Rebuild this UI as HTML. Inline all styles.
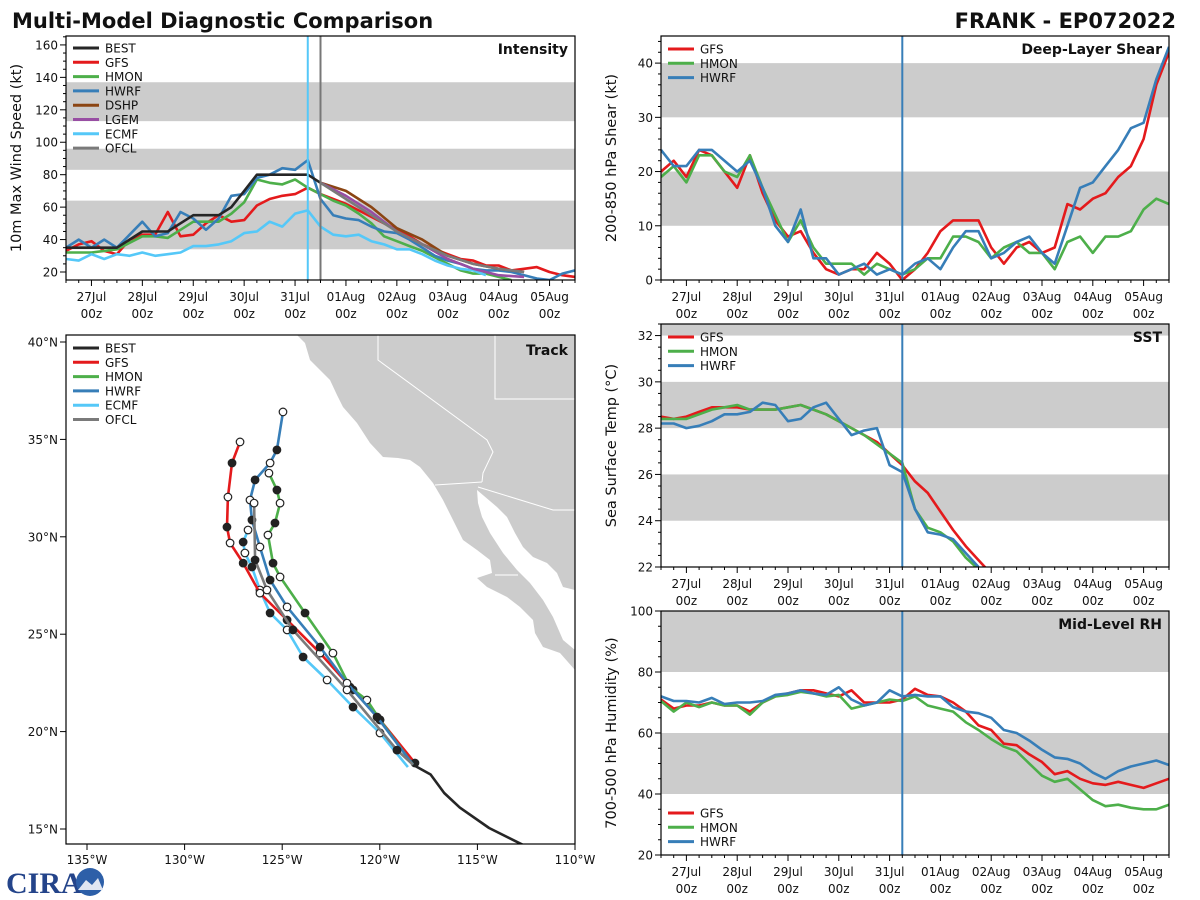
<!DOCTYPE html>
<html><head><meta charset="utf-8">
<style>
html,body{margin:0;padding:0;background:#fff;}
svg{display:block;font-family:"DejaVu Sans","Liberation Sans",sans-serif;}
</style></head>
<body>
<svg id="root" width="1200" height="900" viewBox="0 0 1200 900" xmlns="http://www.w3.org/2000/svg">
<text x="12" y="28" font-size="21" font-weight="bold" fill="#111">Multi-Model Diagnostic Comparison</text>
<text x="1176" y="28" font-size="21" font-weight="bold" fill="#111" text-anchor="end">FRANK - EP072022</text>
<g>
<text x="6" y="893" font-size="30" font-weight="bold" fill="#24448a" font-family="Liberation Serif, serif">CIRA</text>
<circle cx="90" cy="882" r="14" fill="#2d5fa8"/>
<path d="M78,890 L86,880 L92,885 L98,878 L103,890 Z" fill="#e0e6f2"/>
</g>
</svg>
<script>
// ===== DATA =====
const dayLabels = ["27Jul","28Jul","29Jul","30Jul","31Jul","01Aug","02Aug","03Aug","04Aug","05Aug"];
const dayTickSteps = [2,6,10,14,18,22,26,30,34,38];
// Intensity (kt), 6-hourly from 26Jul 12z
const intBest = [35,35,35,35,35,40,45,45,45,50,55,55,55,60,70,80,80,80,80,80,75];
const intGfs = [33,37,39,33,31,40,43,43,57,42,43,50,55,51,52,61,65,67,68,72,68,65,62,58,54,50,46,42,37,34,31,28,27,24,24,21,22,23,20,18,17];
const intHmon = [32,32,32,33,34,38,42,42,41,46,51,51,51,56,63,77,75,74,77,72,68,64,61,56,50,42,39,36,33,29,25,21,19,19,17,15];
const intHwrf = [35,40,35,40,35,43,51,42,44,57,53,46,53,67,68,78,80,84,83,89,65,55,53,52,48,45,44,40,35,30,27,25,22,21,21,20,18,16,15,19,21];
const intEcmf = [28,27,31,28,31,30,32,30,31,32,36,36,37,39,44,45,51,48,56,58,48,43,42,43,39,37,34,34,31,27,24,22,21,18];
const fcstSteps = [20,22,24,26,28,30,32,34,36];
const intDshp = [75,70,60,47,40,30,25,22,20];
const intLgem = [75,67,57,45,37,28,22,18,17];
const intOfcl = [75,65,55,45,37,30,25,22,20];
// Shear (kt)
const shrGfs = [20,22,19,24,23,20,17,23,16,11,8,9,5,2,1,2,2,5,3,0,2,5,9,11,11,11,6,3,6,7,5,6,14,13,15,16,19,21,26,36,42];
const shrHmon = [19,21,18,23,23,20,19,23,17,12,7,11,6,3,3,3,1,3,2,1,2,4,4,8,8,7,4,6,7,5,5,2,7,8,5,8,8,9,13,15,14];
const shrHwrf = [24,21,21,24,24,22,20,22,17,10,7,13,4,4,1,2,3,1,2,1,3,4,2,6,9,9,4,5,7,8,5,3,10,17,18,21,24,28,29,37,43];
// SST (C)
const sstGfs = [28.5,28.4,28.5,28.7,28.9,28.9,28.9,28.8,28.8,28.8,28.9,29.0,28.8,28.6,28.3,28.0,27.7,27.4,26.9,26.4,25.7,25.2,24.4,23.6,22.9,22.3,21.7];
const sstHmon = [28.4,28.4,28.4,28.6,28.8,28.9,29.0,28.8,28.8,28.8,28.9,29.0,28.8,28.6,28.3,28.0,27.7,27.3,26.9,26.5,24.5,23.7,23.5,23.1,22.4,21.9];
const sstHwrf = [28.2,28.2,28.0,28.1,28.3,28.6,28.6,28.7,29.1,29.0,28.3,28.4,28.9,29.1,28.4,27.7,27.9,28.0,26.4,26.1,24.5,23.5,23.4,23.2,22.6,22.0];
// RH (%)
const rhGfs = [71,68,69,69,70,69,69,67,70,72,73,74,74,73,72,74,70,70,70,71,74.5,72.5,72,70,67,62.5,61,56.5,56,53,50.5,46.5,47.5,45,43.5,43,44,43,42,43.5,45];
const rhHmon = [70.5,67,70,68.5,70,69,69,66,70,72,72.5,73.5,73,72,72.5,68,69,70,71,70.5,72,69,68,67,63.5,61,58,55.5,54,50,46,44,45,41.5,38,36,36.5,35.5,35,35,36.5];
const rhHwrf = [72,70.5,70.5,70,71.5,69.5,70,70,70.5,72.5,73,74,73,72.5,75,71,69,70,74,72,72.5,72,72,68.5,67,66.5,65,61,60,57.5,54.5,52,51.5,50,47,45,47.5,49,50,51,49.5];
// Tracks (lat, lon)
const bestLat = [14.2,15.05,16.1,16.85,17.8,18.3];
const bestLon = [-112.7,-114.4,-115.9,-116.7,-117.4,-118.3];
const gfsLat = [18.3,18.39,20.6,22.14,24.03,25.73,27.11,28.65,29.68,30.5,32.04,33.79,34.87];
const gfsLon = [-118.3,-118.2,-119.99,-121.37,-123.06,-124.75,-126.14,-127.0,-127.67,-127.83,-127.78,-127.57,-127.16];
const hmonLat = [18.3,20.6,21.62,22.29,24.03,26.09,27.94,28.65,30.09,30.71,31.73,32.4,33.27];
const hmonLon = [-118.3,-119.99,-120.66,-121.53,-122.4,-123.83,-125.11,-125.47,-125.73,-125.37,-125.11,-125.27,-125.68];
const hwrfLat = [18.3,20.75,22.49,24.34,26.4,27.78,29.48,30.86,31.89,32.92,33.79,34.46,36.41];
const hwrfLon = [-118.3,-120.14,-121.68,-123.06,-124.75,-125.62,-126.14,-126.55,-126.65,-126.39,-125.62,-125.27,-124.96];
const ecmfLat = [18.18,19.93,21.26,22.65,23.83,25.22,26.09,27.27,28.45,29.17,29.73,30.35];
const ecmfLon = [-118.56,-119.99,-121.37,-122.7,-123.93,-124.75,-125.62,-126.14,-126.55,-126.91,-127.0,-126.75];
const ofclLat = [18.3,19.05,22.14,25.22,27.27,28.81,31.73];
const ofclLon = [-118.3,-119.12,-121.68,-124.45,-125.78,-126.39,-126.44];
const lonTicks = [-135,-130,-125,-120,-115,-110];
const latTicks = [15,20,25,30,35,40];

// ===== DRAWING =====
const NS = "http://www.w3.org/2000/svg";
const root = document.getElementById("root");
const C = {BEST:"#262626",GFS:"#e41a1c",HMON:"#4daf4a",HWRF:"#377eb8",DSHP:"#8b4513",LGEM:"#984ea3",ECMF:"#55c8f8",OFCL:"#7a7a7a"};
function mk(tag, attrs, parent){
  const e = document.createElementNS(NS, tag);
  for (const k in attrs) e.setAttribute(k, attrs[k]);
  (parent||root).appendChild(e);
  return e;
}
let clipN = 0;
function panel(p){
  const g = mk("g", {});
  
  
  const xs = t => p.x0 + t*(p.x1-p.x0)/40;
  const ys = v => p.y1 - (v-p.ymin)*(p.y1-p.y0)/(p.ymax-p.ymin);
  p.bands.forEach(b => {
    const r = mk("rect", {x:p.x0, y:ys(Math.min(b[1],p.ymax)), width:p.x1-p.x0, height:ys(b[0])-ys(Math.min(b[1],p.ymax)), fill:"#cccccc"}, g);
    
    
  });
  for (let t=0;t<=40;t++){
    const major = dayTickSteps.indexOf(t) >= 0;
    mk("line",{x1:xs(t),x2:xs(t),y1:p.y1,y2:p.y1+(major?6:3),stroke:"#000","stroke-width":1},g);
  }
  dayTickSteps.forEach((t,i) => {
    const tl = mk("text",{x:xs(t),y:p.y1+21,"font-size":12,"text-anchor":"middle",fill:"#111"},g);
    tl.textContent = dayLabels[i];
    
    
    const tl2 = mk("text",{x:xs(t),y:p.y1+38,"font-size":12,"text-anchor":"middle",fill:"#111"},g);
    tl2.textContent = "00z";
    
    
  });
  for (let v=p.ymin0; v<=p.ymax+1e-6; v+=p.yminor){
    const major = Math.abs((v - p.ymin0)/p.ystep - Math.round((v - p.ymin0)/p.ystep)) < 1e-6;
    mk("line",{x1:p.x0-(major?6:3),x2:p.x0,y1:ys(v),y2:ys(v),stroke:"#000","stroke-width":1},g);
    if (major){
      const yl = mk("text",{x:p.x0-8,y:ys(v)+4.5,"font-size":12,"text-anchor":"end",fill:"#111"},g);
      yl.textContent = String(Math.round(v));
      
      
    }
  }
  const yt = mk("text",{transform:`translate(${p.x0-45},${(p.y0+p.y1)/2}) rotate(-90)`,"font-size":14.5,"text-anchor":"middle",fill:"#111"},g);
  yt.textContent = p.ylabel;
  
  
  const id = "clip"+(clipN++);
  const cp = mk("clipPath",{id:id},g);
  mk("rect",{x:p.x0,y:p.y0,width:p.x1-p.x0,height:p.y1-p.y0},cp);
  const lg = mk("g",{"clip-path":`url(#${id})`},g);
  p.series.forEach(s => {
    const steps = s.steps || s.vals.map((_,i)=>i);
    const d = s.vals.map((v,i)=>(i?"L":"M")+xs(steps[i]).toFixed(1)+","+ys(v).toFixed(1)).join(" ");
    const pl = mk("path",{d:d,fill:"none",stroke:C[s.key],"stroke-width":2.6,"stroke-linejoin":"round"},lg);
    
    
  });
  p.vlines.forEach(v => {
    const vl = mk("line",{x1:xs(v.t),x2:xs(v.t),y1:p.y0,y2:p.y1,stroke:v.c,"stroke-width":2},g);
    
    
  });
  const fr = mk("rect",{x:p.x0,y:p.y0,width:p.x1-p.x0,height:p.y1-p.y0,fill:"none",stroke:"#000","stroke-width":1.2},g);
  
  
  const ti = mk("text",{x:p.x1-7,y:p.y0+18,"font-size":14,"font-weight":"bold","text-anchor":"end",fill:"#111"},g);
  ti.textContent = p.title;
  
  
  legend(g, p.x0, p.legendY, p.legendKeys);
}
function legend(g, x0, y0, keys){
  keys.forEach((k,i) => {
    const y = y0 + i*14.3;
    mk("line",{x1:x0+7,x2:x0+33,y1:y,y2:y,stroke:C[k],"stroke-width":3},g);
    const t = mk("text",{x:x0+39,y:y+4.5,"font-size":12,fill:"#111"},g);
    t.textContent = k;
    
    
  });
}

panel({name:"intensity-panel",x0:66,x1:575,y0:36,y1:280,ymin:15.07,ymax:165.5,ymin0:20,ystep:20,yminor:5,
  bands:[[34,64],[83,96],[113,137]],ylabel:"10m Max Wind Speed (kt)",title:"Intensity",
  legendY:48,legendKeys:["BEST","GFS","HMON","HWRF","DSHP","LGEM","ECMF","OFCL"],
  vlines:[{t:19,c:C.ECMF},{t:20,c:"#777"}],
  series:[{key:"GFS",vals:intGfs},{key:"HMON",vals:intHmon},{key:"HWRF",vals:intHwrf},{key:"ECMF",vals:intEcmf},
    {key:"DSHP",vals:intDshp,steps:fcstSteps},{key:"LGEM",vals:intLgem,steps:fcstSteps},{key:"OFCL",vals:intOfcl,steps:fcstSteps},{key:"BEST",vals:intBest}]});
panel({name:"shear-panel",x0:661,x1:1169,y0:36,y1:280,ymin:0,ymax:45,ymin0:0,ystep:10,yminor:2,
  bands:[[10,20],[30,40]],ylabel:"200-850 hPa Shear (kt)",title:"Deep-Layer Shear",
  legendY:49,legendKeys:["GFS","HMON","HWRF"],vlines:[{t:19,c:C.HWRF}],
  series:[{key:"GFS",vals:shrGfs},{key:"HMON",vals:shrHmon},{key:"HWRF",vals:shrHwrf}]});
panel({name:"sst-panel",x0:661,x1:1169,y0:324,y1:567,ymin:22,ymax:32.5,ymin0:22,ystep:2,yminor:0.5,
  bands:[[24,26],[28,30],[32,34]],ylabel:"Sea Surface Temp (°C)",title:"SST",
  legendY:337,legendKeys:["GFS","HMON","HWRF"],vlines:[{t:19,c:C.HWRF}],
  series:[{key:"GFS",vals:sstGfs},{key:"HMON",vals:sstHmon},{key:"HWRF",vals:sstHwrf}]});
panel({name:"rh-panel",x0:661,x1:1169,y0:611,y1:855,ymin:20,ymax:100,ymin0:20,ystep:20,yminor:5,
  bands:[[40,60],[80,100]],ylabel:"700-500 hPa Humidity (%)",title:"Mid-Level RH",
  legendY:813,legendKeys:["GFS","HMON","HWRF"],vlines:[{t:19,c:C.HWRF}],
  series:[{key:"GFS",vals:rhGfs},{key:"HMON",vals:rhHmon},{key:"HWRF",vals:rhHwrf}]});

// ===== TRACK MAP =====
(function(){
  const x0=66,x1=575,y0=335,y1=844;
  const lx = lon => 87 + (lon+135)*19.52;
  const ly = lat => 342 - (lat-40)*19.48;
  const g = mk("g",{});
  
  
  const cp = mk("clipPath",{id:"trackclip"},g);
  mk("rect",{x:x0,y:y0,width:x1-x0,height:y1-y0},cp);
  const m = mk("g",{"clip-path":"url(#trackclip)"},g);
  const land = mk("path",{fill:"#cccccc",stroke:"none",d:
   "M297,335 L305,343 L310,360 L322,372 L330,380 L337,395 L343,407 L357,423 L370,443 L383,457 L398,458 L410,460 L420,467 L433,483 L443,500 L453,520 L463,540 L477,550 L490,560 L492,573 L477,578 L487,587 L507,597 L520,607 L533,620 L535,633 L543,647 L560,653 L575,670 L575,650 L563,640 L553,617 L543,600 L530,583 L517,570 L503,553 L490,533 L482,517 L478,503 L477,490 L497,507 L507,517 L515,533 L523,547 L533,557 L547,563 L557,573 L563,587 L575,590 L575,335 Z"},m);
  
  
  const bd = mk("path",{fill:"none",stroke:"#fff","stroke-width":1,d:
   "M378,335 L378,360 L483,437 L487,440 L493,452 L483,473 L482,482 M495,335 L495,399 L575,399 M435,485 L482,482 M478,487 L553,510 L575,510 M495,575 L518,575"},m);
  
  
  function track(key, lats, lons, markers){
    const d = lats.map((la,i)=>(i?"L":"M")+lx(lons[i]).toFixed(1)+","+ly(la).toFixed(1)).join(" ");
    const p = mk("path",{d:d,fill:"none",stroke:C[key],"stroke-width":2.6,"stroke-linejoin":"round"},m);
    
    
    if (!markers) return;
    for (let i=1;i<lats.length;i++){
      const filled = (lats.length-1-i)%2===1;
      const c = mk("circle",{cx:lx(lons[i]),cy:ly(lats[i]),r:3.8,fill:filled?"#222":"#fff",stroke:"#222","stroke-width":1.2},m);
      
      
    }
  }
  track("BEST",bestLat,bestLon,false);
  track("ECMF",ecmfLat,ecmfLon,true);
  track("GFS",gfsLat,gfsLon,true);
  track("HMON",hmonLat,hmonLon,true);
  track("HWRF",hwrfLat,hwrfLon,true);
  track("OFCL",ofclLat,ofclLon,true);
  lonTicks.forEach(lo => {
    mk("line",{x1:lx(lo),x2:lx(lo),y1:y1,y2:y1+6,stroke:"#000"},g);
    const t = mk("text",{x:lx(lo),y:y1+20,"font-size":12,"text-anchor":"middle",fill:"#111"},g);
    t.textContent = Math.abs(lo)+"°W";
    
    
  });
  latTicks.forEach(la => {
    mk("line",{x1:x0-6,x2:x0,y1:ly(la),y2:ly(la),stroke:"#000"},g);
    const t = mk("text",{x:x0-8,y:ly(la)+4.5,"font-size":12,"text-anchor":"end",fill:"#111"},g);
    t.textContent = la+"°N";
    
    
  });
  const fr = mk("rect",{x:x0,y:y0,width:x1-x0,height:y1-y0,fill:"none",stroke:"#000","stroke-width":1.2},g);
  
  
  const ti = mk("text",{x:x1-7,y:y0+20,"font-size":14,"font-weight":"bold","text-anchor":"end",fill:"#111"},g);
  ti.textContent = "Track";
  
  
  legend(g, x0, 348, ["BEST","GFS","HMON","HWRF","ECMF","OFCL"]);
})();
</script>
</body></html>
